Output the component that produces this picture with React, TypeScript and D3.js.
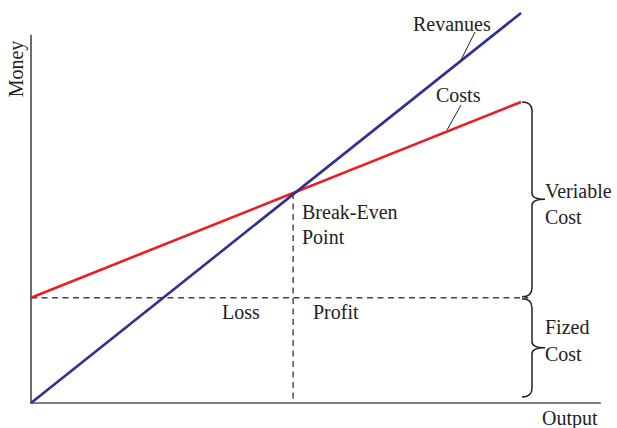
import { useEffect, useRef } from "react";
import * as d3 from "d3";

// output levels (start, end) and the two lines
const outputs = [0, 100];
const revenues = [0, 100];
const costs = [27, 77.2];
const fixedCost = 27;
const breakEven = 53.5;
const axisLabels = ["Money", "Output"];

const App = () => {
  const svgRef = useRef<SVGSVGElement>(null);

  useEffect(() => {
    const svg = d3.select(svgRef.current);
    svg.selectAll("*").remove();
    const w = 617;
    const h = 428;
    const font = "'Liberation Serif', 'DejaVu Serif', serif";

    const x = d3.scaleLinear().domain([0, 100]).range([31, 521]);
    const y = d3.scaleLinear().domain([0, 100]).range([403, 13]);

    // axes
    svg.append("path")
      .attr("d", `M${x(0)},${y(94.4)}V${y(0)}H${x(116.3)}`)
      .attr("fill", "none")
      .attr("stroke", "#555")
      .attr("stroke-width", 1.7);

    // dashed guides
    svg.append("line")
      .attr("x1", x(0)).attr("x2", x(101.5))
      .attr("y1", y(fixedCost)).attr("y2", y(fixedCost))
      .attr("stroke", "#444").attr("stroke-width", 1.4)
      .attr("stroke-dasharray", "6,4.5");
    svg.append("line")
      .attr("x1", x(breakEven)).attr("x2", x(breakEven))
      .attr("y1", y(costs[0] + (costs[1] - costs[0]) * breakEven / 100)).attr("y2", y(0))
      .attr("stroke", "#444").attr("stroke-width", 1.4)
      .attr("stroke-dasharray", "6,4.5");

    const line = d3.line<number>()
      .x((d, i) => x(outputs[i]))
      .y(d => y(d));

    svg.append("path").attr("d", line(costs))
      .attr("fill", "none").attr("stroke", "#ed1c24").attr("stroke-width", 2.6);
    svg.append("path").attr("d", line(revenues))
      .attr("fill", "none").attr("stroke", "#2e3192").attr("stroke-width", 2.6);

    // leader lines
    svg.append("line").attr("x1", 475).attr("y1", 32).attr("x2", 461).attr("y2", 60)
      .attr("stroke", "#222").attr("stroke-width", 1);
    svg.append("line").attr("x1", 461).attr("y1", 105).attr("x2", 447).attr("y2", 130)
      .attr("stroke", "#222").attr("stroke-width", 1);

    // curly braces
    const brace = (top: number, bottom: number) => {
      const bx = 532;
      const tip = 545;
      const mid = (top + bottom) / 2;
      const r = 6;
      return `M${bx - 10},${top} Q${bx},${top} ${bx},${top + r * 1.5}` +
        ` V${mid - r} Q${bx},${mid} ${tip},${mid}` +
        ` Q${bx},${mid} ${bx},${mid + r} V${bottom - r * 1.5}` +
        ` Q${bx},${bottom} ${bx - 10},${bottom}`;
    };
    svg.append("path").attr("d", brace(y(costs[1]), y(fixedCost) - 1))
      .attr("fill", "none").attr("stroke", "#222").attr("stroke-width", 1.5);
    svg.append("path").attr("d", brace(y(fixedCost) + 1, y(0) - 6))
      .attr("fill", "none").attr("stroke", "#222").attr("stroke-width", 1.5);

    const texts: [string, number, number][] = [
      ["Revanues", 413, 31],
      ["Costs", 436, 102],
      ["Break-Even", 302, 219],
      ["Point", 302, 244],
      ["Loss", 222, 319],
      ["Profit", 313, 319],
      ["Veriable", 545, 198],
      ["Cost", 545, 224],
      ["Fized", 545, 334],
      ["Cost", 545, 361],
      [axisLabels[1], 542, 425],
    ];
    svg.selectAll("text.lbl").data(texts).join("text")
      .attr("class", "lbl")
      .attr("x", d => d[1]).attr("y", d => d[2])
      .attr("font-family", font).attr("font-size", 20)
      .attr("fill", "#222")
      .text(d => d[0]);

    svg.append("text")
      .attr("transform", "translate(23,69) rotate(-90)")
      .attr("text-anchor", "middle")
      .attr("font-family", font).attr("font-size", 20)
      .attr("fill", "#222")
      .text(axisLabels[0]);

    svg.attr("width", w).attr("height", h);
  }, []);

  return (
    <svg ref={svgRef} style={{ position: "absolute", left: 0, top: 0 }} width={617} height={428}></svg>
  );
};

export default App;
